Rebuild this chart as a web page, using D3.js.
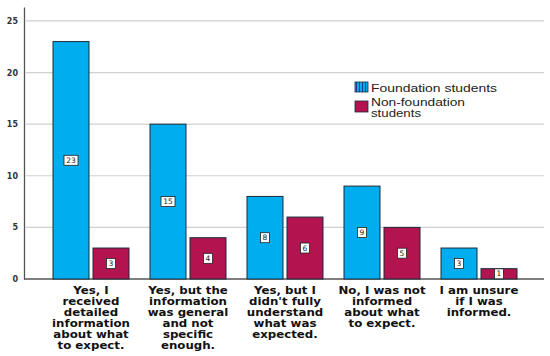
<!DOCTYPE html>
<html><head><meta charset="utf-8">
<script src="https://cdn.jsdelivr.net/npm/d3@7"></script>
<style>html,body{margin:0;padding:0;background:#fff;}svg{display:block;}</style>
</head><body>
<svg id="c" width="550" height="356"></svg>
<script>
const categories = [
  "Yes, I received detailed information about what to expect.",
  "Yes, but the information was general and not specific enough.",
  "Yes, but I didn't fully understand what was expected.",
  "No, I was not informed about what to expect.",
  "I am unsure if I was informed."
];
const categoryLines = [
  ["Yes, I","received","detailed","information","about what","to expect."],
  ["Yes, but the","information","was general","and not","specific","enough."],
  ["Yes, but I","didn't fully","understand","what was","expected."],
  ["No, I was not","informed","about what","to expect."],
  ["I am unsure","if I was","informed."]
];
const seriesNames = ["Foundation students", "Non-foundation students"];
const foundation = [23, 15, 8, 9, 3];
const nonFoundation = [3, 4, 6, 5, 1];
const yTicks = [0, 5, 10, 15, 20, 25];
const colors = ["#00aeef", "#b3134f"];

const svg = d3.select("#c");
const defs = svg.append("defs");
const pat = defs.append("pattern").attr("id","stripe").attr("patternUnits","userSpaceOnUse")
  .attr("width",3).attr("height",3);
pat.append("rect").attr("width",3).attr("height",3).attr("fill",colors[0]);
pat.append("rect").attr("x",2).attr("width",1).attr("height",3).attr("fill","#1a3d8c");

const x = d3.scaleBand().domain(categories).range([42.5, 527.5]).padding(0);
const xs = d3.scaleBand().domain(seriesNames).range([-38, 38]).paddingInner(0.1).paddingOuter(0);
const y = d3.scaleLinear().domain([0, 26.35]).range([279, 7]);

// gridlines
svg.append("g").selectAll("line").data(yTicks.filter(d=>d>0)).join("line")
  .attr("x1",26).attr("x2",544).attr("y1",d=>y(d)).attr("y2",d=>y(d))
  .attr("stroke","#d0d0d0").attr("stroke-width",1.2);

// y axis
const yAxis = d3.axisLeft(y).tickValues(yTicks).tickSize(0).tickPadding(6).tickFormat(d3.format("d"));
const gy = svg.append("g").attr("transform","translate(24,0)").call(yAxis);
gy.select(".domain").attr("stroke","#555").attr("stroke-width",1.3);
gy.selectAll("text").attr("font-family","DejaVu Sans").attr("font-weight","bold")
  .attr("font-size","8px").attr("fill","#333");

// baseline
svg.append("line").attr("x1",24).attr("x2",544).attr("y1",y(0)).attr("y2",y(0))
  .attr("stroke","#555").attr("stroke-width",1.3);

const data = categories.map((c,i)=>({c, vals:[foundation[i], nonFoundation[i]]}));
const groups = svg.append("g").selectAll("g").data(data).join("g")
  .attr("transform",d=>`translate(${x(d.c)+x.bandwidth()/2},0)`);
const bars = groups.selectAll("g").data(d=>d.vals.map((v,k)=>({v,k}))).join("g");
bars.append("rect")
  .attr("x",d=>xs(seriesNames[d.k])).attr("width",xs.bandwidth())
  .attr("y",d=>y(d.v)).attr("height",d=>y(0)-y(d.v))
  .attr("fill",d=>colors[d.k]).attr("stroke","#1b2b3a").attr("stroke-width",1);
// value labels
bars.each(function(d){
  const g = d3.select(this);
  const cx = xs(seriesNames[d.k]) + xs.bandwidth()/2;
  const cy = y(d.v/2);
  const t = String(d.v);
  const w = t.length>1 ? 14 : 9;
  g.append("rect").attr("x",cx-w/2).attr("y",cy-5).attr("width",w).attr("height",10)
    .attr("fill","#fff").attr("stroke","#222").attr("stroke-width",0.8);
  g.append("text").attr("x",cx).attr("y",cy+2.6).attr("text-anchor","middle")
    .attr("font-family","DejaVu Sans").attr("font-size","7.5px").attr("fill","#222").text(t);
});

// category labels
groups.each(function(d,i){
  const t = d3.select(this).append("g").attr("transform","scale(1.18,1)")
    .append("text").attr("text-anchor","middle")
    .attr("font-family","DejaVu Sans").attr("font-weight","bold").attr("font-size","10px")
    .attr("fill","#111");
  categoryLines[i].forEach((ln,j)=>{
    t.append("tspan").attr("x",0).attr("y",294 + j*11).text(ln);
  });
});

// legend
const lg = svg.append("g");
lg.append("rect").attr("x",355).attr("y",82).attr("width",13).attr("height",10)
  .attr("fill","url(#stripe)").attr("stroke","#1b2b3a").attr("stroke-width",0.8);
lg.append("rect").attr("x",355).attr("y",101).attr("width",13).attr("height",11)
  .attr("fill",colors[1]).attr("stroke","#1b2b3a").attr("stroke-width",0.8);
const legendLines = [
  {t: seriesNames[0], y: 92.3, w: 126, s: 11},
  {t: "Non-foundation", y: 105.5, w: 94, s: 10.5},
  {t: "students", y: 116.5, w: 50, s: 10.5}
];
lg.selectAll("text.l").data(legendLines).join("text").attr("class","l")
  .attr("x",371).attr("y",d=>d.y).attr("textLength",d=>d.w).attr("lengthAdjust","spacingAndGlyphs")
  .attr("font-family","Liberation Sans").attr("font-size",d=>d.s+"px").attr("fill","#222")
  .text(d=>d.t);
</script>
</body></html>
